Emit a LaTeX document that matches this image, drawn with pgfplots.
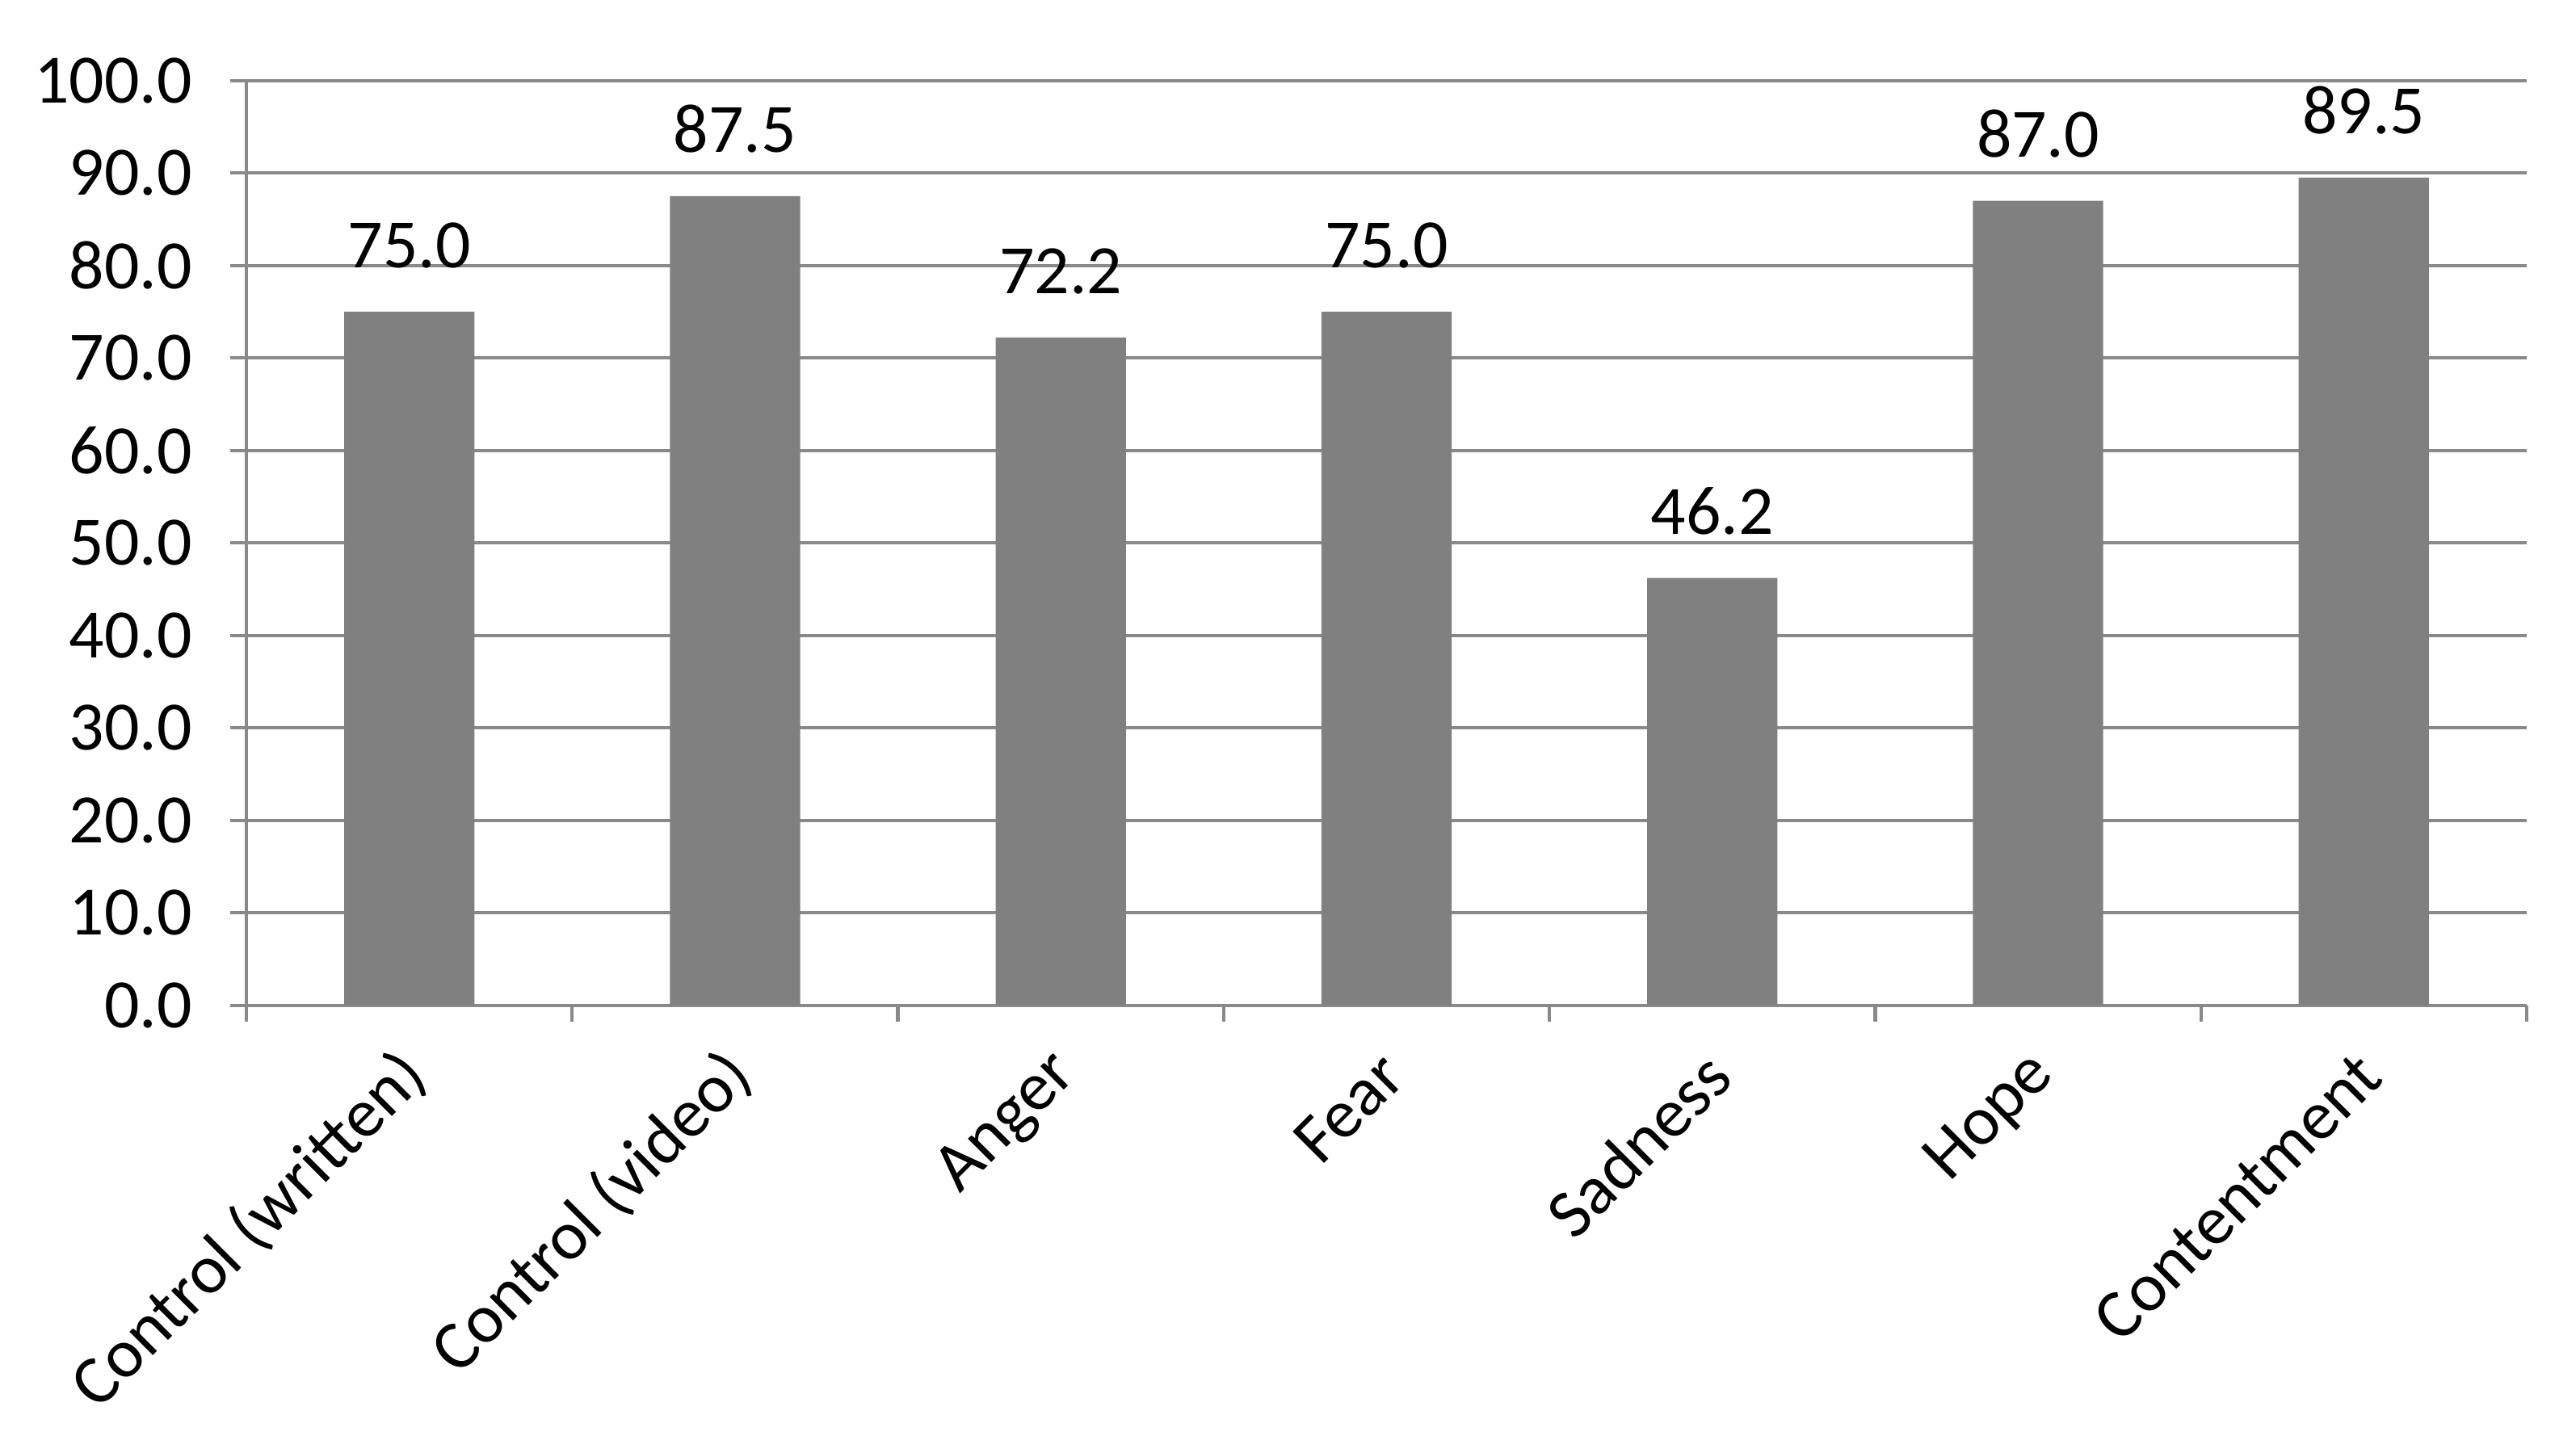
\documentclass[border=0pt]{standalone}
\usepackage{pgfplots}
\pgfplotsset{compat=1.18}
\usepackage{fontspec}
\setmainfont{Carlito}
\definecolor{barc}{HTML}{808080}
\definecolor{gridc}{HTML}{898989}
\begin{document}
\begin{tikzpicture}
\path[use as bounding box] (0,0) rectangle (15.68cm,8.74cm);
\begin{axis}[
  at={(1.5cm,2.62cm)}, anchor=south west,
  scale only axis, width=13.88cm, height=5.63cm,
  ybar,
  xmin=-0.5, xmax=6.5, ymin=0, ymax=100,
  axis x line*=bottom, axis y line*=left,
  axis line style={gridc, line width=0.6pt, -},
  ytick={0,10,...,100},
  xtick={0,...,6},
  xticklabels={Control (written), Control (video), Anger, Fear, Sadness, Hope, Contentment},
  minor xtick={-0.5,0.5,...,6.5},
  tick align=outside,
  major tick length=0.1cm, minor tick length=0.1cm,
  tick style={gridc, line width=0.6pt},
  major x tick style={draw=none},
  ymajorgrids, grid style={gridc, line width=0.6pt},
  /pgf/number format/assume math mode=true,
  yticklabel style={/pgf/number format/fixed, /pgf/number format/fixed zerofill, /pgf/number format/precision=1, xshift=-3pt},
  tick label style={font=\fontsize{12}{14}\selectfont, black},
  xticklabel style={rotate=45, anchor=east, xshift=-1pt, yshift=-6pt},
  nodes near coords,
  every node near coord/.append style={font=\fontsize{12}{14}\selectfont, black, yshift=4pt,
     /pgf/number format/fixed, /pgf/number format/fixed zerofill, /pgf/number format/precision=1},
  clip=false,
]
\addplot[fill=barc, draw=none, bar width=0.4] coordinates {(0,75.0) (1,87.5) (2,72.2) (3,75.0) (4,46.2) (5,87.0) (6,89.5)};
\end{axis}
\end{tikzpicture}
\end{document}
